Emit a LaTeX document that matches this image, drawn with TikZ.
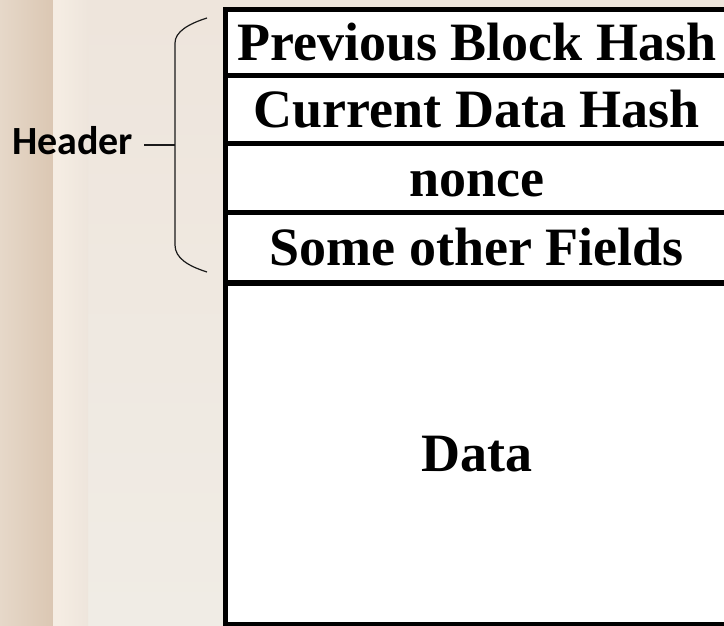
\documentclass[tikz,border=0pt]{standalone}
\usepackage{fontspec}
\setmainfont{Liberation Serif}
\newfontfamily\hdrfont{Carlito}
\definecolor{slidebg}{HTML}{EEE5DC}
\definecolor{slidebgb}{HTML}{F0ECE5}
\definecolor{stripa}{HTML}{E6D8C9}
\definecolor{stripb}{HTML}{DBC7B3}
\definecolor{stripc}{HTML}{F5EDE3}
\definecolor{bracegray}{HTML}{1A1A1A}
\tikzset{
  field/.style={draw=black, line width=5pt, fill=white, inner sep=0pt, outer sep=0pt,
    minimum width=502.5pt, text height=36pt, text depth=0pt,
    font=\fontsize{54}{60}\selectfont\bfseries},
  hdrlabel/.style={inner xsep=11pt, inner ysep=0pt, text height=18pt, text depth=0pt,
    font=\hdrfont\fontsize{40}{46}\selectfont\bfseries},
}
\begin{document}
\begin{tikzpicture}[x=1pt,y=-1pt]
\useasboundingbox (0,0) rectangle (724,626);
% slide background
\shade[top color=slidebg, bottom color=slidebgb] (0,0) rectangle (724,626);
\shade[left color=stripa, right color=stripb] (0,0) rectangle (53,626);
\fill[stripc] (53,0) rectangle (58,626);
\shade[left color=stripc, right color=slidebg] (58,0) rectangle (88,626);
% block fields
\node[field, minimum height=66pt] (prev) at (476.75,43) {Previous Block Hash};
\node[field, minimum height=68pt] (curr) at (476.75,110) {Current Data Hash};
\node[field, minimum height=69pt] (nonce) at (476.75,178.5) {nonce};
\node[field, minimum height=70pt] (other) at (476.75,247) {Some other Fields};
\node[field, minimum height=341pt] (data) at (476.75,453.5) {Data};
% brace
\coordinate (brtop) at (207,18);
\coordinate (brbot) at (207,272);
\coordinate (brmid) at (175,145);
\draw[bracegray, line width=1.2pt] (brtop) .. controls (188,24) and (175,32) .. (175,43)
  -- (175,245) .. controls (175,258) and (188,266) .. (brbot);
% header label
\node[hdrlabel, anchor=base] (hdr) at (72.5,154) {Header};
\draw[bracegray, line width=1.2pt] (hdr.east) -- (brmid);
\end{tikzpicture}
\end{document}
